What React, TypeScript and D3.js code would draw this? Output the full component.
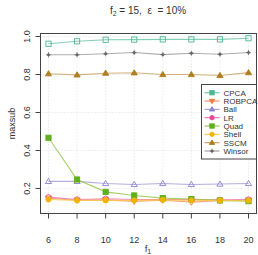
import React, { useEffect } from 'react';
import * as d3 from 'd3';

const f1 = [6, 8, 10, 12, 14, 16, 18, 20];
const yTicks = [0.2, 0.4, 0.6, 0.8, 1.0];

const cpca = [0.962, 0.975, 0.983, 0.984, 0.985, 0.985, 0.985, 0.991];
const robpca = [0.148, 0.138, 0.14, 0.132, 0.138, 0.128, 0.135, 0.138];
const ball = [0.237, 0.237, 0.226, 0.221, 0.226, 0.221, 0.223, 0.226];
const lr = [0.154, 0.142, 0.146, 0.142, 0.142, 0.142, 0.14, 0.142];
const quad = [0.467, 0.247, 0.182, 0.163, 0.149, 0.144, 0.137, 0.133];
const shell = [0.142, 0.137, 0.137, 0.137, 0.14, 0.137, 0.137, 0.136];
const sscm = [0.804, 0.798, 0.807, 0.809, 0.8, 0.8, 0.795, 0.81];
const winsor = [0.904, 0.904, 0.909, 0.916, 0.905, 0.912, 0.907, 0.916];

type Shape = 'sqOpen' | 'triDownOpen' | 'triOpen' | 'circOpen' | 'sq' | 'circ' | 'tri' | 'plus';

interface Series {
    name: string;
    values: number[];
    point: string;
    line: string;
    shape: Shape;
}

const series: Series[] = [
    { name: 'CPCA', values: cpca, point: '#4DB88F', line: '#66C2A5', shape: 'sqOpen' },
    { name: 'ROBPCA', values: robpca, point: '#F07A3A', line: '#FC8D62', shape: 'triDownOpen' },
    { name: 'Ball', values: ball, point: '#8A82D0', line: '#A09ADB', shape: 'triOpen' },
    { name: 'LR', values: lr, point: '#E8489A', line: '#F06AB0', shape: 'circOpen' },
    { name: 'Quad', values: quad, point: '#5FAF1E', line: '#8CC63F', shape: 'sq' },
    { name: 'Shell', values: shell, point: '#F0B400', line: '#F5C842', shape: 'circ' },
    { name: 'SSCM', values: sscm, point: '#B07D20', line: '#C9A060', shape: 'tri' },
    { name: 'Winsor', values: winsor, point: '#666666', line: '#999999', shape: 'plus' },
];

const W = 258;
const H = 255;
const left = 40.5;
const right = 256.5;
const top = 33.5;
const bottom = 213.5;
const font = '"Liberation Sans", Arial, Helvetica, sans-serif';

function Marker({ shape, x, y, color, legend }: { shape: Shape; x: number; y: number; color: string; legend?: boolean }) {
    const s = legend ? 2.2 : 2.6;
    const open = !legend && shape.endsWith('Open');
    const fill = open ? 'none' : color;
    const sw = 0.9;
    switch (shape) {
        case 'sqOpen':
        case 'sq':
            return <rect x={x - s} y={y - s} width={2 * s} height={2 * s} fill={fill} stroke={color} strokeWidth={sw} />;
        case 'triOpen':
        case 'tri':
            return <path d={`M${x},${y - s - 0.5}L${x + s + 0.5},${y + s - 0.5}L${x - s - 0.5},${y + s - 0.5}Z`} fill={fill} stroke={color} strokeWidth={sw} />;
        case 'triDownOpen':
            return <path d={`M${x},${y + s + 0.5}L${x + s + 0.5},${y - s + 0.5}L${x - s - 0.5},${y - s + 0.5}Z`} fill={fill} stroke={color} strokeWidth={sw} />;
        case 'circOpen':
        case 'circ':
            return <circle cx={x} cy={y} r={s} fill={fill} stroke={color} strokeWidth={sw} />;
        case 'plus':
            return (
                <g>
                    <circle cx={x} cy={y} r={1.5} fill={color} />
                    <path d={`M${x - s},${y}H${x + s}M${x},${y - s}V${y + s}`} stroke={color} strokeWidth={0.7} />
                </g>
            );
    }
}

export default function App() {
    useEffect(() => {
        document.body.style.margin = '0';
    }, []);

    const x = d3.scaleLinear().domain([6 - 14 * 0.04, 20 + 14 * 0.04]).range([left, right]);
    const y = d3.scaleLinear().domain([0.068, 1.016]).range([bottom, top]);

    const line = d3.line<number>()
        .x((_, i) => x(f1[i]))
        .y(d => y(d));

    const legX = 201.5;
    const legY = 84.5;
    const legW = 55;
    const legH = 74.5;
    const rowH = 8.33;

    return (
        <svg width={W} height={H} style={{ display: 'block', background: '#fff' }} fontFamily={font}>
            {/* grid */}
            {f1.map(v => (
                <line key={'gx' + v} x1={x(v)} x2={x(v)} y1={top} y2={bottom} stroke="#d3d3d3" strokeWidth={0.7} strokeDasharray="1,2" />
            ))}
            {yTicks.map(v => (
                <line key={'gy' + v} x1={left} x2={right} y1={y(v)} y2={y(v)} stroke="#d3d3d3" strokeWidth={0.7} strokeDasharray="1,2" />
            ))}

            {/* lines */}
            {series.map(s => (
                <path key={'l' + s.name} d={line(s.values) || ''} fill="none" stroke={s.line} strokeOpacity={0.8} strokeWidth={1.1} />
            ))}
            {/* points */}
            {series.map(s => (
                <g key={'p' + s.name}>
                    {s.values.map((v, i) => (
                        <Marker key={i} shape={s.shape} x={x(f1[i])} y={y(v)} color={s.point} />
                    ))}
                </g>
            ))}

            {/* box */}
            <rect x={left} y={top} width={right - left} height={bottom - top} fill="none" stroke="#444" strokeWidth={1} />

            {/* x axis */}
            {f1.map(v => (
                <g key={'tx' + v}>
                    <line x1={x(v)} x2={x(v)} y1={bottom} y2={bottom + 5} stroke="#444" />
                    <text x={x(v)} y={243} fontSize={9} textAnchor="middle" fill="#333">{v}</text>
                </g>
            ))}
            {/* y axis */}
            {yTicks.map(v => (
                <g key={'ty' + v}>
                    <line x1={left - 5} x2={left} y1={y(v)} y2={y(v)} stroke="#444" />
                    <text transform={`translate(30,${y(v)}) rotate(-90)`} fontSize={9} textAnchor="middle" fill="#333">{v.toFixed(1)}</text>
                </g>
            ))}

            {/* labels */}
            <text x={148} y={14} fontSize={10} textAnchor="middle" fill="#333" style={{ whiteSpace: 'pre' }}>
                f<tspan fontSize={7} dy={2}>2</tspan><tspan dy={-2}>{' = 15,  ε  = 10%'}</tspan>
            </text>
            <text x={148} y={252} fontSize={9.5} textAnchor="middle" fill="#333">
                f<tspan fontSize={7} dy={2}>1</tspan>
            </text>
            <text transform={`translate(15,${(top + bottom) / 2}) rotate(-90)`} fontSize={9} textAnchor="middle" fill="#333">maxsub</text>

            {/* legend */}
            <rect x={legX} y={legY} width={legW} height={legH} fill="#fff" stroke="#444" strokeWidth={1} />
            {series.map((s, i) => {
                const cy = legY + 8.2 + i * rowH;
                return (
                    <g key={'lg' + s.name}>
                        <line x1={legX + 3} x2={legX + 18} y1={cy} y2={cy} stroke={s.line} strokeWidth={1.1} />
                        <Marker shape={s.shape} x={legX + 10.5} y={cy} color={s.point} legend />
                        <text x={legX + 22} y={cy + 3} fontSize={8} fill="#333">{s.name}</text>
                    </g>
                );
            })}
        </svg>
    );
}
